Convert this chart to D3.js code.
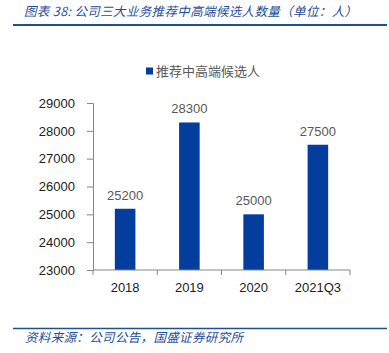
<!DOCTYPE html>
<html lang="zh">
<head>
  <meta charset="UTF-8">
  <title>公司三大业务推荐中高端候选人数量</title>
  <style>
    body { margin: 0; background: #fff; }
    svg { display: block; }
  </style>
</head>
<body>
  <div id="chart"></div>
  <script src="https://d3js.org/d3.v7.min.js"></script>
  <script>
    const categories = ['2018', '2019', '2020', '2021Q3'];
    const values = [25200, 28300, 25000, 27500];
    const yTicks = [23000, 24000, 25000, 26000, 27000, 28000, 29000];
    const seriesName = '推荐中高端候选人';
    const titleText = '图表 38:  公司三大业务推荐中高端候选人数量（单位：人）';
    const sourceText = '资料来源：公司公告，国盛证券研究所';

    const W = 389, H = 353;
    const margin = {top: 103, right: 39, bottom: 83, left: 93};
    const innerW = W - margin.left - margin.right;
    const innerH = H - margin.top - margin.bottom;
    const BAR_COLOR = '#033e9e';
    const RULE_COLOR = '#1f4e9a';
    const FONT = '"Liberation Sans", Arial, sans-serif';
    const CJK = '"Noto Sans CJK SC", sans-serif';

    const svg = d3.select('#chart').append('svg')
      .attr('width', W).attr('height', H);

    // title and top rule
    svg.append('text')
      .attr('x', 24).attr('y', 16)
      .attr('font-family', CJK).attr('font-size', '12.5px')
      .attr('font-style', 'italic')
      .attr('textLength', 333).attr('lengthAdjust', 'spacing')
      .attr('fill', RULE_COLOR)
      .text(titleText);
    svg.append('line')
      .attr('x1', 13).attr('x2', 387).attr('y1', 25).attr('y2', 25)
      .attr('stroke', RULE_COLOR).attr('stroke-width', 2);

    // legend
    svg.append('rect')
      .attr('x', 146).attr('y', 67.5).attr('width', 7).attr('height', 7)
      .attr('fill', BAR_COLOR);
    svg.append('text')
      .attr('x', 156).attr('y', 76)
      .attr('font-family', CJK).attr('font-size', '13px')
      .attr('fill', '#595959')
      .text(seriesName);

    const g = svg.append('g')
      .attr('transform', `translate(${margin.left},${margin.top})`);

    const x = d3.scaleBand().domain(categories).range([0, innerW])
      .paddingInner(0.68).paddingOuter(0.34);
    const y = d3.scaleLinear().domain([23000, 29000]).range([innerH, 0]);

    // bars
    g.selectAll('rect.bar')
      .data(values)
      .join('rect')
      .attr('class', 'bar')
      .attr('x', (d, i) => x(categories[i]))
      .attr('y', d => y(d))
      .attr('width', x.bandwidth())
      .attr('height', d => innerH - y(d))
      .attr('fill', BAR_COLOR);

    // value labels
    g.selectAll('text.val')
      .data(values)
      .join('text')
      .attr('class', 'val')
      .attr('x', (d, i) => x(categories[i]) + x.bandwidth() / 2)
      .attr('y', d => y(d) - 9)
      .attr('text-anchor', 'middle')
      .attr('font-family', FONT).attr('font-size', '13px')
      .attr('fill', '#595959')
      .text(d => d);

    // y axis
    const yAxis = g.append('g')
      .call(d3.axisLeft(y).tickValues(yTicks).tickSize(6).tickPadding(12)
        .tickFormat(d3.format('d')));
    yAxis.select('.domain').attr('stroke', '#868686');
    yAxis.selectAll('.tick line').attr('stroke', '#868686');
    yAxis.selectAll('text')
      .attr('font-family', FONT).attr('font-size', '13px').attr('fill', '#222');

    // x axis: ticks sit between the categories
    const xAxisG = g.append('g').attr('transform', `translate(0,${innerH})`);
    xAxisG.append('line')
      .attr('x1', 0).attr('x2', innerW).attr('stroke', '#868686');
    const step = innerW / categories.length;
    const boundaries = d3.range(categories.length + 1).map(i => i * step);
    xAxisG.selectAll('line.tk')
      .data(boundaries)
      .join('line')
      .attr('class', 'tk')
      .attr('x1', d => d).attr('x2', d => d)
      .attr('y1', 0).attr('y2', 5)
      .attr('stroke', '#868686');
    xAxisG.selectAll('text')
      .data(categories)
      .join('text')
      .attr('x', d => x(d) + x.bandwidth() / 2)
      .attr('y', 22)
      .attr('text-anchor', 'middle')
      .attr('font-family', FONT).attr('font-size', '13px')
      .attr('fill', '#222')
      .text(d => d);

    // source rule and note
    svg.append('line')
      .attr('x1', 13).attr('x2', 387).attr('y1', 328.5).attr('y2', 328.5)
      .attr('stroke', RULE_COLOR).attr('stroke-width', 1.5);
    svg.append('text')
      .attr('x', 25).attr('y', 342)
      .attr('font-family', CJK).attr('font-size', '12.5px')
      .attr('font-style', 'italic')
      .attr('textLength', 218).attr('lengthAdjust', 'spacing')
      .attr('fill', RULE_COLOR)
      .text(sourceText);
  </script>
</body>
</html>
